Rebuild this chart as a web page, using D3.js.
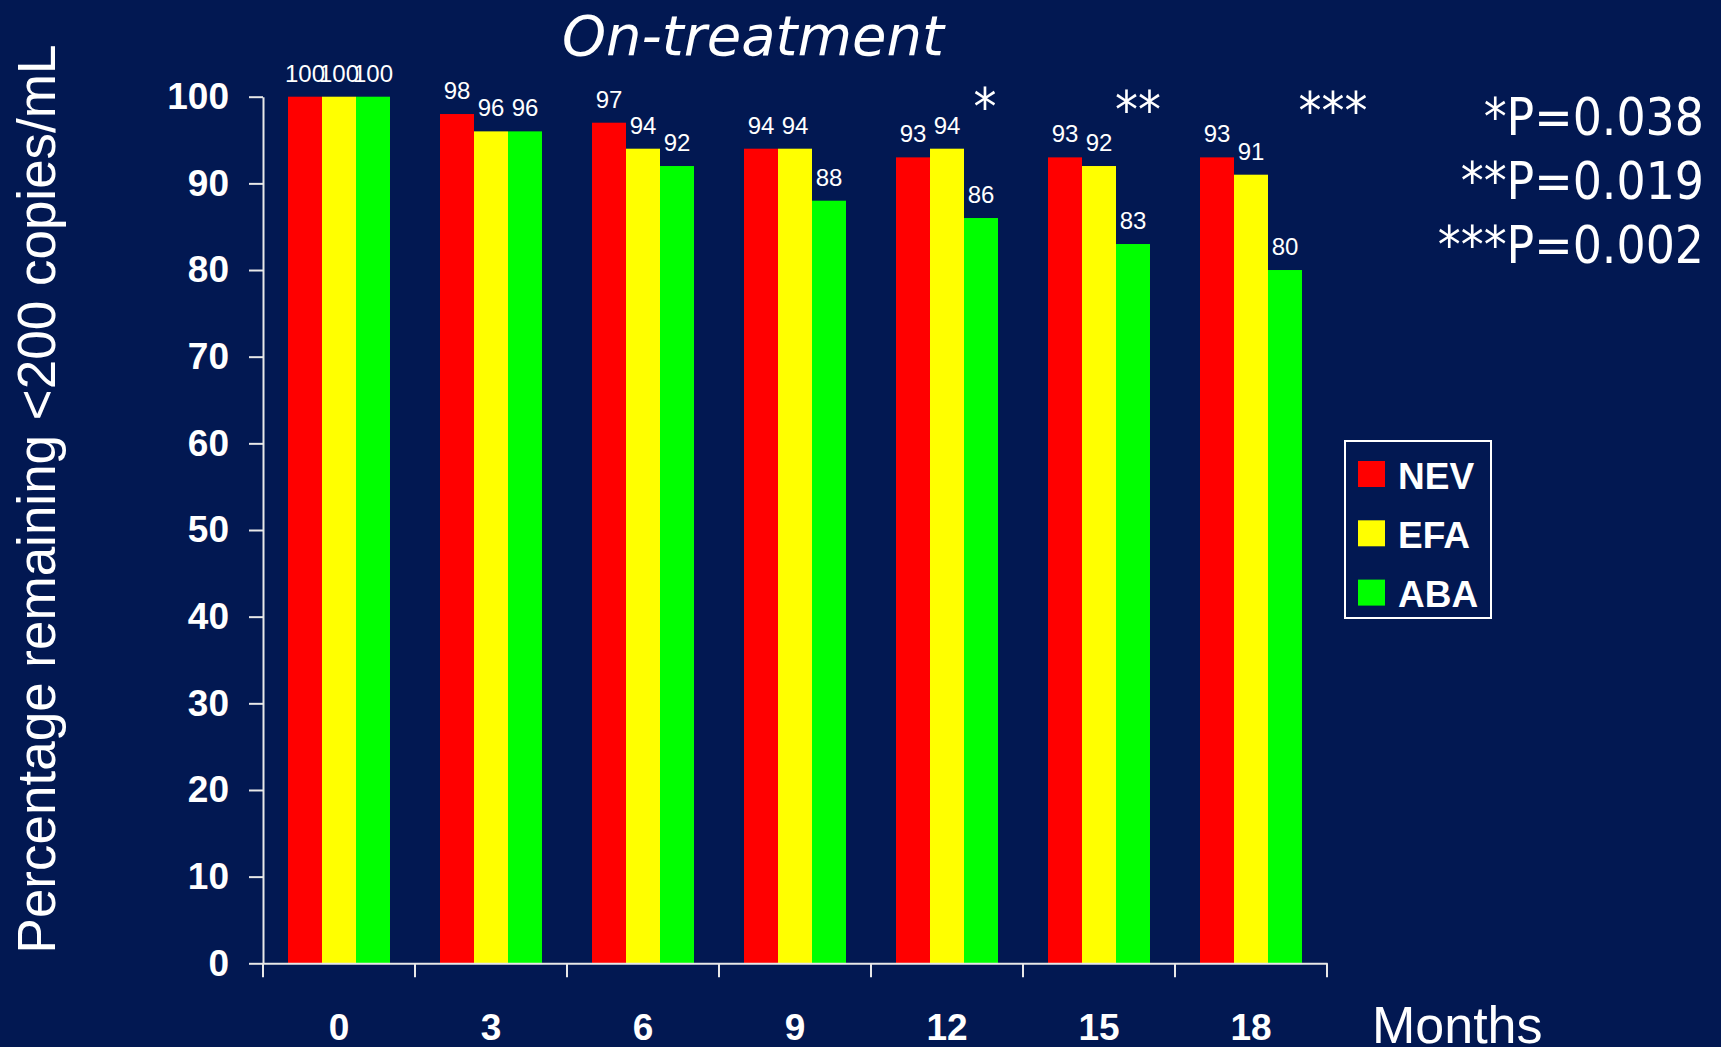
<!DOCTYPE html>
<html><head><meta charset="utf-8">
<script src="https://cdn.jsdelivr.net/npm/d3@7"></script>
<style>
html,body{margin:0;padding:0;background:#021852;}
svg{display:block;}
</style></head>
<body>
<svg id="chart" width="1721" height="1047"></svg>
<script>
const categories = ["0","3","6","9","12","15","18"];
const seriesNames = ["NEV","EFA","ABA"];
const nevValues = [100,98,97,94,93,93,93];
const efaValues = [100,96,94,94,94,92,91];
const abaValues = [100,96,92,88,86,83,80];
const yTickValues = [0,10,20,30,40,50,60,70,80,90,100];
const starTexts = ["*","**","***"];
const starCategories = ["12","15","18"];
const pValueTexts = ["*P=0.038","**P=0.019","***P=0.002"];
const titleText = "On-treatment";
const yAxisTitle = "Percentage remaining <200 copies/mL";
const xAxisTitle = "Months";

const colors = {NEV:"#ff0000", EFA:"#ffff00", ABA:"#00ff00"};
const seriesValues = {NEV:nevValues, EFA:efaValues, ABA:abaValues};

const svg = d3.select("#chart");
const W = 1721, H = 1047;
svg.append("rect").attr("width",W).attr("height",H).attr("fill","#021852");

const plotLeft = 263, plotRight = 1327, plotTop = 96.7, plotBottom = 963.3;

const x = d3.scaleBand().domain(categories).range([plotLeft,plotRight])
  .paddingInner(0.329).paddingOuter(0.1645);
const xs = d3.scaleBand().domain(seriesNames).range([0,x.bandwidth()]).padding(0);
const y = d3.scaleLinear().domain([0,100]).range([plotBottom,plotTop]);

const axisColor = "#e8e8e8";

// bars
const groups = svg.append("g").selectAll("g").data(categories).join("g")
  .attr("transform", d => `translate(${x(d)},0)`);
groups.selectAll("rect").data((d,i) => seriesNames.map(s => ({s, v: seriesValues[s][i]})))
  .join("rect")
  .attr("x", d => xs(d.s)).attr("width", xs.bandwidth())
  .attr("y", d => y(d.v)).attr("height", d => y(0) - y(d.v))
  .attr("fill", d => colors[d.s]);
groups.selectAll("text").data((d,i) => seriesNames.map(s => ({s, v: seriesValues[s][i]})))
  .join("text")
  .attr("x", d => xs(d.s) + xs.bandwidth()/2)
  .attr("y", d => y(d.v) - 15)
  .attr("text-anchor","middle")
  .attr("fill","#fff")
  .attr("font-family","Liberation Sans, Arial, sans-serif")
  .attr("font-size",24)
  .text(d => d.v);

// y axis
const yAxis = svg.append("g").attr("transform",`translate(${plotLeft},0)`)
  .call(d3.axisLeft(y).tickValues(yTickValues).tickSize(14).tickSizeOuter(0).tickPadding(20));
yAxis.select(".domain").attr("stroke",axisColor).attr("stroke-width",2);
yAxis.selectAll(".tick line").attr("stroke",axisColor).attr("stroke-width",2);
yAxis.selectAll(".tick text").attr("fill","#fff")
  .attr("font-family","Liberation Sans, Arial, sans-serif")
  .attr("font-weight","bold").attr("font-size",37);

// x axis
const xAxis = svg.append("g").attr("transform",`translate(0,${plotBottom})`)
  .call(d3.axisBottom(x).tickSize(0).tickSizeOuter(0).tickPadding(0));
xAxis.select(".domain").attr("stroke",axisColor).attr("stroke-width",2);
xAxis.selectAll(".tick text").attr("fill","#fff")
  .attr("font-family","Liberation Sans, Arial, sans-serif")
  .attr("font-weight","bold").attr("font-size",37)
  .attr("dy",null).attr("y",77);
const half = x.step()*x.paddingInner()/2;
const boundaries = categories.map(c => x(c) - half).concat([x(categories[categories.length-1]) + x.bandwidth() + half]);
xAxis.selectAll(".bound").data(boundaries).join("line").attr("class","bound")
  .attr("x1", d => d).attr("x2", d => d).attr("y1",0).attr("y2",14)
  .attr("stroke",axisColor).attr("stroke-width",2);

// titles
svg.append("text").attr("x",753).attr("y",55).attr("text-anchor","middle")
  .attr("fill","#fff").attr("font-family","DejaVu Sans, sans-serif")
  .attr("font-style","italic").attr("font-size",56).text(titleText);

svg.append("text").attr("transform","translate(55,499) rotate(-90)")
  .attr("text-anchor","middle").attr("fill","#fff")
  .attr("font-family","Liberation Sans, Arial, sans-serif")
  .attr("font-size",53).text(yAxisTitle);

svg.append("text").attr("x",1372).attr("y",1043)
  .attr("fill","#fff").attr("font-family","Liberation Sans, Arial, sans-serif")
  .attr("font-size",52).text(xAxisTitle);

// stars
const starOffsets = [89, 90, 133];
const starBase = [125, 128, 129];
svg.append("g").selectAll("text").data(starTexts).join("text")
  .attr("x",(d,i) => x(starCategories[i]) + starOffsets[i])
  .attr("y",(d,i) => starBase[i])
  .attr("text-anchor","middle").attr("fill","#fff")
  .attr("font-family","DejaVu Sans Condensed, DejaVu Sans, sans-serif")
  .attr("font-stretch","condensed")
  .attr("font-size",51).text(d => d);

// p-values
svg.append("g").selectAll("text").data(pValueTexts).join("text")
  .attr("x",1704).attr("y",(d,i) => 135 + i*64)
  .attr("text-anchor","end").attr("fill","#fff")
  .attr("font-family","DejaVu Sans Condensed, DejaVu Sans, sans-serif")
  .attr("font-stretch","condensed")
  .attr("font-size",51).text(d => d);

// legend
const lg = svg.append("g");
lg.append("rect").attr("x",1345).attr("y",441).attr("width",146).attr("height",177)
  .attr("fill","none").attr("stroke","#fff").attr("stroke-width",2);
const li = lg.selectAll("g").data(seriesNames).join("g")
  .attr("transform",(d,i) => `translate(1358,${461 + i*59.3})`);
li.append("rect").attr("width",27).attr("height",26).attr("fill",d => colors[d]);
li.append("text").attr("x",40).attr("y",27.5).attr("fill","#fff")
  .attr("font-family","Liberation Sans, Arial, sans-serif")
  .attr("font-weight","bold").attr("font-size",37).text(d => d);
</script>
</body></html>
